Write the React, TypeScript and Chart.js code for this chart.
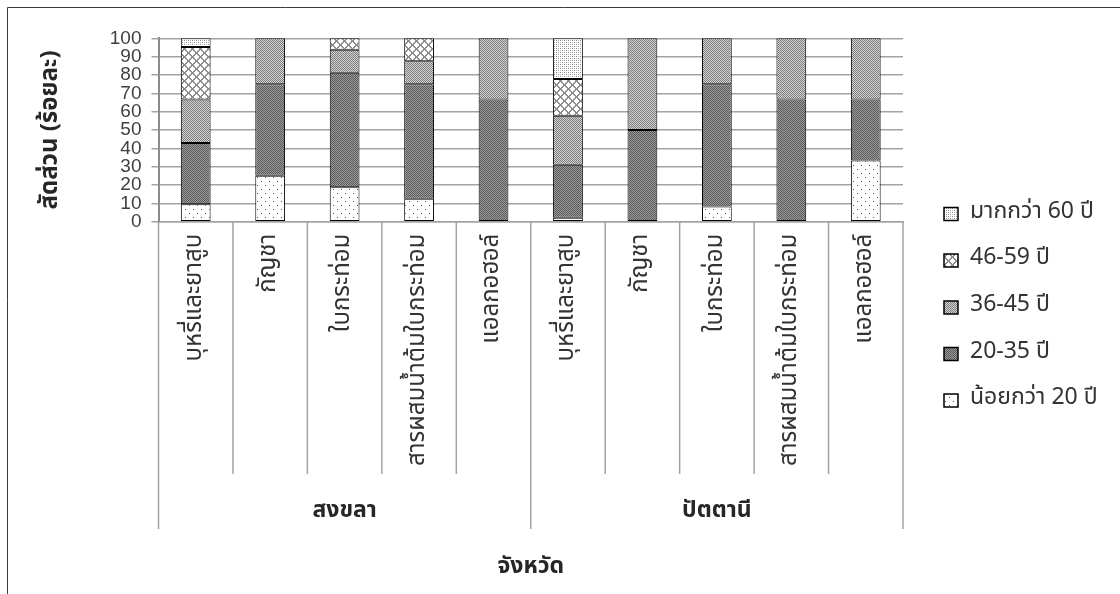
import React, { useEffect, useRef } from "react";
import { Chart, registerables } from "chart.js";

Chart.register(...registerables);

// ---- data ----
const categories = [
  "บุหรี่และยาสูบ",
  "กัญชา",
  "ใบกระท่อม",
  "สารผสมน้ำต้มใบกระท่อม",
  "แอลกอฮอล์",
  "บุหรี่และยาสูบ",
  "กัญชา",
  "ใบกระท่อม",
  "สารผสมน้ำต้มใบกระท่อม",
  "แอลกอฮอล์",
];
const groups = ["สงขลา", "ปัตตานี"];
const groupSize = 5;
const seriesNames = ["น้อยกว่า 20 ปี", "20-35 ปี", "36-45 ปี", "46-59 ปี", "มากกว่า 60 ปี"];
const under20 = [9.52, 25, 18.75, 12.5, 0, 2.22, 0, 8.33, 0, 33.33];
const age20to35 = [33.33, 50, 62.5, 62.5, 66.67, 28.89, 50, 66.67, 66.67, 33.33];
const age36to45 = [23.81, 25, 12.5, 12.5, 33.33, 26.67, 50, 25, 33.33, 33.34];
const age46to59 = [28.57, 0, 6.25, 12.5, 0, 20, 0, 0, 0, 0];
const over60 = [4.77, 0, 0, 0, 0, 22.22, 0, 0, 0, 0];
const yMin = 0;
const yMax = 100;
const yStep = 10;
const yTitle = "สัดส่วน (ร้อยละ)";
const xTitle = "จังหวัด";

const FONT = "'Noto Sans Thai', 'Noto Sans', 'Liberation Sans', 'DejaVu Sans', sans-serif";

type Kind = "dots" | "dark" | "medium" | "cross" | "light";

function makePattern(kind: Kind): CanvasPattern | string {
  const c = document.createElement("canvas");
  const ctx = c.getContext("2d");
  if (!ctx) return "#999";
  const px = (x: number, y: number, col: string) => {
    ctx.fillStyle = col;
    ctx.fillRect(x, y, 1, 1);
  };
  if (kind === "dots") {
    c.width = 8; c.height = 8;
    ctx.fillStyle = "#ffffff"; ctx.fillRect(0, 0, 8, 8);
    px(1, 1, "#555"); px(5, 5, "#555");
  } else if (kind === "dark") {
    c.width = 2; c.height = 2;
    px(0, 0, "#5a5a5a"); px(1, 1, "#5a5a5a"); px(1, 0, "#9a9a9a"); px(0, 1, "#9a9a9a");
  } else if (kind === "medium") {
    c.width = 2; c.height = 2;
    px(0, 0, "#7c7c7c"); px(1, 1, "#7c7c7c"); px(1, 0, "#d4d4d4"); px(0, 1, "#d4d4d4");
  } else if (kind === "cross") {
    c.width = 8; c.height = 8;
    ctx.fillStyle = "#ffffff"; ctx.fillRect(0, 0, 8, 8);
    for (let x = 0; x < 8; x++) {
      for (let y = 0; y < 8; y++) {
        const a = (x + y) % 8;
        const b = (x - y + 8) % 8;
        if (a === 0 || a === 1 || b === 0 || b === 7) px(x, y, "#8c8c8c");
      }
    }
  } else {
    c.width = 4; c.height = 4;
    ctx.fillStyle = "#ffffff"; ctx.fillRect(0, 0, 4, 4);
    px(0, 0, "#8a8a8a"); px(2, 2, "#8a8a8a"); px(2, 0, "#b5b5b5"); px(0, 2, "#b5b5b5");
  }
  return ctx.createPattern(c, "repeat") || "#999";
}

export default function App() {
  const ref = useRef<HTMLCanvasElement | null>(null);

  useEffect(() => {
    const canvas = ref.current;
    if (!canvas) return;
    const kinds: Kind[] = ["dots", "dark", "medium", "cross", "light"];
    const patterns = kinds.map((k) => makePattern(k));
    const values = [under20, age20to35, age36to45, age46to59, over60];

    const decor = {
      id: "decor",
      afterDraw(chart: any) {
        const { ctx } = chart;
        const xs = chart.scales.x;
        const area = chart.chartArea;
        const n = categories.length;
        const w = (area.right - area.left) / n;
        ctx.save();
        // frame
        ctx.strokeStyle = "#3a3a3a";
        ctx.lineWidth = 1;
        ctx.beginPath();
        ctx.moveTo(7.5, 594);
        ctx.lineTo(7.5, 7.5);
        ctx.lineTo(1120, 7.5);
        ctx.stroke();
        // category dividers
        ctx.strokeStyle = "#a3a3a3";
        ctx.lineWidth = 1.5;
        for (let i = 0; i <= n; i++) {
          const x = xs.getPixelForValue(Math.min(i, n - 1)) + (i === n ? w / 2 : -w / 2);
          const isGroup = i % groupSize === 0;
          ctx.beginPath();
          ctx.moveTo(x, area.bottom);
          ctx.lineTo(x, isGroup ? 529 : 474);
          ctx.stroke();
        }
        // group labels
        ctx.fillStyle = "#262626";
        ctx.font = `bold 23px ${FONT}`;
        ctx.textAlign = "center";
        ctx.textBaseline = "middle";
        groups.forEach((g, gi) => {
          const a = xs.getPixelForValue(gi * groupSize);
          const b = xs.getPixelForValue(gi * groupSize + groupSize - 1);
          ctx.fillText(g, (a + b) / 2, 512);
        });
        // legend
        const centers = [214, 260.5, 307.5, 354, 400.5];
        ctx.font = `23px ${FONT}`;
        ctx.textAlign = "left";
        for (let k = 0; k < seriesNames.length; k++) {
          const si = seriesNames.length - 1 - k;
          const cy = centers[k];
          ctx.fillStyle = patterns[si] as any;
          ctx.fillRect(944, cy - 6.5, 14, 13);
          ctx.strokeStyle = "#000";
          ctx.lineWidth = 1.5;
          ctx.strokeRect(944, cy - 6.5, 14, 13);
          ctx.fillStyle = "#333";
          ctx.fillText(seriesNames[si], 970, cy - 1);
        }
        ctx.restore();
      },
    };

    const chart = new Chart(canvas, {
      type: "bar",
      data: {
        labels: categories,
        datasets: seriesNames.map((name, i) => ({
          label: name,
          data: values[i],
          backgroundColor: patterns[i] as any,
          borderColor: "#000000",
          borderWidth: 1,
          borderSkipped: false,
          categoryPercentage: 1,
          barPercentage: 0.4,
        })),
      },
      options: {
        responsive: false,
        animation: false,
        devicePixelRatio: 1,
        layout: { padding: { top: 38.3, left: 0, right: 217, bottom: 0 } },
        plugins: {
          legend: { display: false },
          tooltip: { enabled: false },
          title: { display: false },
        },
        scales: {
          x: {
            stacked: true,
            offset: true,
            grid: { display: false, drawTicks: false },
            border: { display: true, color: "#a3a3a3", width: 1.5 },
            ticks: {
              autoSkip: false,
              minRotation: 90,
              maxRotation: 90,
              padding: 12,
              color: "#333",
              font: { family: FONT, size: 24 },
            },
            title: {
              display: true,
              text: xTitle,
              color: "#262626",
              font: { family: FONT, size: 23, weight: "bold" },
              padding: { top: 0, bottom: 12 },
            },
            afterFit(scale: any) {
              scale.height = 594 - 221.7;
            },
          },
          y: {
            stacked: true,
            min: yMin,
            max: yMax,
            ticks: {
              stepSize: yStep,
              autoSkip: false,
              padding: 10,
              color: "#404040",
              font: { family: "'Liberation Sans', sans-serif", size: 19 },
            },
            grid: {
              color: "#a3a3a3",
              lineWidth: 1.5,
              tickLength: 7,
              drawTicks: true,
            },
            border: { display: true, color: "#8c8c8c", width: 2 },
            title: {
              display: true,
              text: yTitle,
              color: "#262626",
              font: { family: FONT, size: 24, weight: "bold" },
              padding: { top: 38, bottom: 0 },
            },
            afterFit(scale: any) {
              scale.width = 158.5;
            },
          },
        },
      },
      plugins: [decor],
    });
    return () => chart.destroy();
  }, []);

  return (
    <canvas
      ref={ref}
      width={1120}
      height={594}
      style={{ position: "fixed", left: 0, top: 0, width: 1120, height: 594, background: "#fff" }}
    />
  );
}
